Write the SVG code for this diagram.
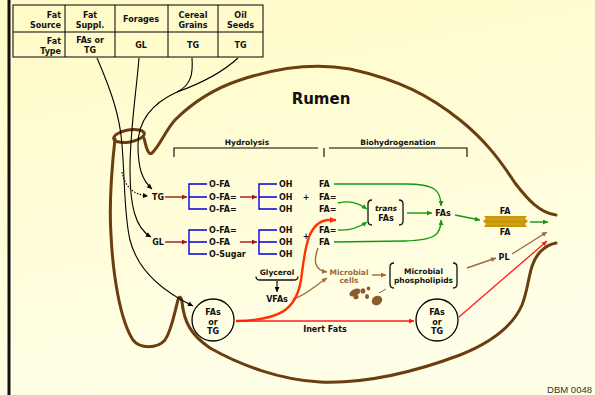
<svg xmlns="http://www.w3.org/2000/svg" width="595" height="395" viewBox="0 0 595 395">
  <defs>
    <linearGradient id="bg" x1="0" y1="0" x2="0.3" y2="1">
      <stop offset="0" stop-color="#FFFBC6"/>
      <stop offset="1" stop-color="#FFFFE8"/>
    </linearGradient>
    <marker id="aBlack" viewBox="0 0 10 10" refX="10" refY="5" markerWidth="6" markerHeight="5" markerUnits="userSpaceOnUse" orient="auto">
      <path d="M0,0 L10,5 L0,10 z" fill="#000"/>
    </marker>
    <marker id="aDarkRed" viewBox="0 0 10 10" refX="10" refY="5" markerWidth="6" markerHeight="5" markerUnits="userSpaceOnUse" orient="auto">
      <path d="M0,0 L10,5 L0,10 z" fill="#A01818"/>
    </marker>
    <marker id="aGreen" viewBox="0 0 10 10" refX="10" refY="5" markerWidth="6" markerHeight="5" markerUnits="userSpaceOnUse" orient="auto">
      <path d="M0,0 L10,5 L0,10 z" fill="#119A11"/>
    </marker>
    <marker id="aBrown" viewBox="0 0 10 10" refX="10" refY="5" markerWidth="6" markerHeight="5" markerUnits="userSpaceOnUse" orient="auto">
      <path d="M0,0 L10,5 L0,10 z" fill="#9C6A3C"/>
    </marker>
    <marker id="aRed" viewBox="0 0 10 10" refX="10" refY="5" markerWidth="6" markerHeight="5" markerUnits="userSpaceOnUse" orient="auto">
      <path d="M0,0 L10,5 L0,10 z" fill="#FF1A1A"/>
    </marker>
    <marker id="aOrange" viewBox="0 0 10 10" refX="10" refY="5" markerWidth="7" markerHeight="6" markerUnits="userSpaceOnUse" orient="auto">
      <path d="M0,0 L10,5 L0,10 z" fill="#FF3300"/>
    </marker>
  </defs>
  <style>
    text { font-family: "DejaVu Sans", "Liberation Sans", sans-serif; font-weight: bold; font-size: 8px; fill: #111; }
    .c { text-anchor: middle; }
    .e { text-anchor: end; }
    .sm { font-size: 7.5px; }
    .brn { fill: #9C6A3C; }
    .cell { fill: none; stroke: #000; stroke-width: 1; }
    .wall { fill: none; stroke: #6B3D10; stroke-width: 3; stroke-linecap: round; stroke-linejoin: round; }
    .blk { fill: none; stroke: #000; stroke-width: 1.1; }
    .dred { fill: none; stroke: #A01818; stroke-width: 1.4; }
    .blue { fill: none; stroke: #0000E0; stroke-width: 1.4; }
    .grn { fill: none; stroke: #119A11; stroke-width: 1.4; }
    .bro { fill: none; stroke: #9C6A3C; stroke-width: 1.4; }
    .red { fill: none; stroke: #FF1A1A; stroke-width: 1.3; }
    .org { fill: none; stroke: #FF3300; stroke-width: 2.4; }
    .par { fill: none; stroke: #111; stroke-width: 1.3; }
  </style>

  <!-- background and left rule -->
  <rect x="0" y="0" width="595" height="395" fill="url(#bg)"/>
  <line x1="9" y1="0" x2="9" y2="395" stroke="#111" stroke-width="3"/>

  <!-- fat source table -->
  <g id="table">
    <rect x="13" y="5" width="250" height="52" class="cell" fill="#FFFDC8"/>
    <line x1="13" y1="32" x2="263" y2="32" class="cell"/>
    <line x1="65" y1="5" x2="65" y2="57" class="cell"/>
    <line x1="115" y1="5" x2="115" y2="57" class="cell"/>
    <line x1="168" y1="5" x2="168" y2="57" class="cell"/>
    <line x1="218" y1="5" x2="218" y2="57" class="cell"/>
    <text x="61" y="17.5" class="e">Fat</text>
    <text x="61" y="27.5" class="e">Source</text>
    <text x="90" y="17.5" class="c">Fat</text>
    <text x="90" y="27.5" class="c">Suppl.</text>
    <text x="141" y="21.5" class="c">Forages</text>
    <text x="193" y="17.5" class="c">Cereal</text>
    <text x="193" y="27.5" class="c">Grains</text>
    <text x="240.5" y="17.5" class="c">Oil</text>
    <text x="240.5" y="27.5" class="c">Seeds</text>
    <text x="61" y="44" class="e">Fat</text>
    <text x="61" y="54" class="e">Type</text>
    <text x="90" y="43" class="c">FAs or</text>
    <text x="90" y="53" class="c">TG</text>
    <text x="141" y="48" class="c">GL</text>
    <text x="193" y="48" class="c">TG</text>
    <text x="240.5" y="48" class="c">TG</text>
  </g>

  <!-- rumen wall -->
  <g id="rumen">
    <path class="wall" d="M556,215 C540,213 528,200 515,183 C500,160 485,140 460,120 C430,96 400,80 350,69 C310,62 270,70 240,80 C210,90 190,105 175,120 C165,131 160,146 152,153 C148,156 146,146 144,138"/>
    <ellipse class="wall" cx="129" cy="136" rx="15.5" ry="6" transform="rotate(-10 129 136)"/>
    <path class="wall" d="M115,139 C111,175 109,205 111,235 C113,275 120,320 133,340 C140,349 157,349 165,340 C172,330 175,310 178,300 C179,296 181,296 182,302 C184,322 191,335 210,348 C240,365 280,380 320,382 C370,384 420,370 460,355 C490,343 512,328 522,305 C530,285 528,265 540,252 C545,247 550,244 556,243"/>
    <text x="321" y="104" class="c" style="font-size:15px">Rumen</text>
  </g>

  <!-- process stages -->
  <g id="stages">
    <path class="blk" d="M174,157 L174,148 L318,148"/>
    <line x1="324" y1="148" x2="324" y2="157" class="blk"/>
    <path class="blk" d="M329,148 L467,148 L467,157"/>
    <text x="247" y="145" class="c sm">Hydrolysis</text>
    <text x="398" y="145" class="c sm">Biohydrogenation</text>
  </g>

  <!-- feed inputs into the rumen -->
  <g id="inputs">
    <path class="blk" d="M97,58 C110,88 120,115 122,145 C125,180 124,215 130,240 C137,268 160,290 193,306" marker-end="url(#aBlack)"/>
    <path class="blk" d="M122,172 C125,188 135,195 148,196" stroke-dasharray="1.5 1.5" marker-end="url(#aBlack)"/>
    <path class="blk" d="M139,58 C136,95 130,130 130,170 C130,205 135,228 151,237" marker-end="url(#aBlack)"/>
    <path class="blk" d="M192,58 C193,72 192,85 177,92 C155,102 138,118 138,145 C138,168 142,180 152,189" marker-end="url(#aBlack)"/>
    <path class="blk" d="M238,58 C225,70 205,82 177,92"/>
  </g>

  <!-- triglyceride hydrolysis -->
  <g id="tg">
    <text x="158" y="200" class="c">TG</text>
    <path class="blue" d="M207,184 L189,184 L189,209 L207,209 M189,197 L207,197"/>
    <text x="209" y="187">O-FA</text>
    <text x="209" y="200">O-FA=</text>
    <text x="209" y="212">O-FA=</text>
    <path class="blue" d="M277,184 L259,184 L259,209 L277,209 M259,197 L277,197"/>
    <text x="279" y="187">OH</text>
    <text x="279" y="200">OH</text>
    <text x="279" y="212">OH</text>
    <text x="306" y="200" class="c">+</text>
    <text x="319" y="187">FA</text>
    <text x="319" y="200">FA=</text>
    <text x="319" y="212">FA=</text>
  </g>

  <!-- galactolipid hydrolysis -->
  <g id="gl">
    <text x="158" y="245" class="c">GL</text>
    <path class="blue" d="M207,230 L189,230 L189,254 L207,254 M189,242 L207,242"/>
    <text x="209" y="233">O-FA=</text>
    <text x="209" y="245">O-FA</text>
    <text x="209" y="257">O-Sugar</text>
    <path class="blue" d="M277,230 L259,230 L259,254 L277,254 M259,242 L277,242"/>
    <text x="279" y="233">OH</text>
    <text x="279" y="245">OH</text>
    <text x="279" y="257">OH</text>
    <text x="306" y="239" class="c">+</text>
    <text x="319" y="233">FA=</text>
    <text x="319" y="245">FA</text>
  </g>

  <g id="glycerol">
    <text x="277" y="275" class="c sm">Glycerol</text>
    <path class="par" d="M256,276.5 Q256,280 260,280 L294,280 Q298,280 298,276.5" stroke-width="1"/>
    <text x="277" y="302" class="c">VFAs</text>
  </g>

  <g id="trans">
    <path class="par" d="M372,200 Q368,200 368,204 L368,221 Q368,225 372,225"/>
    <path class="par" d="M399,200 Q403,200 403,204 L403,221 Q403,225 399,225"/>
    <text x="386" y="211" class="c sm" style="font-style:italic">trans</text>
    <text x="386" y="221" class="c">FAs</text>
  </g>

  <g id="fas">
    <text x="443" y="216" class="c">FAs</text>
  </g>

  <g id="band">
    <path d="M484,216 L527,216 L525,218.5 L528,221 L525,224 L527,227 L484,227 L486,224 L483,221 L486,218.5 Z" fill="#C8960A"/>
    <path d="M487,219 L524,219 M486,224 L523,224" stroke="#D9AC3A" stroke-width="0.8"/>
    <text x="505" y="214" class="c">FA</text>
    <text x="505" y="234.5" class="c">FA</text>
  </g>

  <g id="microbes">
    <text x="349" y="274.5" class="c sm brn">Microbial</text>
    <text x="349" y="283" class="c sm brn">cells</text>
    <g fill="#8C5A2C">
      <ellipse cx="355" cy="292.5" rx="6" ry="3.3" transform="rotate(-25 355 292.5)"/>
      <ellipse cx="356" cy="297" rx="2.6" ry="2.3"/>
      <ellipse cx="363" cy="291" rx="2.3" ry="2.8"/>
      <ellipse cx="368.5" cy="288.5" rx="1.8" ry="2"/>
      <ellipse cx="367" cy="296.5" rx="2" ry="2.6"/>
      <ellipse cx="377" cy="300.5" rx="5.5" ry="4.5" transform="rotate(-30 377 300.5)"/>
    </g>
    <path d="M379,293 L386,289" stroke="#9C6A3C" stroke-width="1"/>
  </g>

  <g id="phospholipids">
    <path class="par" d="M394,263 Q390,263 390,267 L390,284 Q390,288 394,288"/>
    <path class="par" d="M453,263 Q457,263 457,267 L457,284 Q457,288 453,288"/>
    <text x="423.5" y="274" class="c sm">Microbial</text>
    <text x="423.5" y="283" class="c sm">phospholipids</text>
  </g>

  <g id="pl">
    <text x="504" y="260" class="c">PL</text>
  </g>

  <g id="fats-in">
    <circle cx="213" cy="320" r="21" fill="none" stroke="#000" stroke-width="1.3"/>
    <text x="213" y="314.5" class="c">FAs</text>
    <text x="213" y="324.5" class="c">or</text>
    <text x="213" y="334" class="c">TG</text>
  </g>

  <g id="fats-out">
    <circle cx="437" cy="320" r="21" fill="none" stroke="#000" stroke-width="1.3"/>
    <text x="437" y="314.5" class="c">FAs</text>
    <text x="437" y="324.5" class="c">or</text>
    <text x="437" y="334" class="c">TG</text>
  </g>

  <!-- connectors -->
  <g id="connectors">
    <line x1="165" y1="197" x2="187" y2="197" class="dred" marker-end="url(#aDarkRed)"/>
    <line x1="240" y1="197" x2="257" y2="197" class="dred" marker-end="url(#aDarkRed)"/>
    <line x1="165" y1="242" x2="187" y2="242" class="dred" marker-end="url(#aDarkRed)"/>
    <line x1="240" y1="242" x2="257" y2="242" class="dred" stroke="#B54040" marker-end="url(#aDarkRed)"/>

    <path class="grn" d="M334,184 L405,184 C435,184 441,190 441,206" marker-end="url(#aGreen)"/>
    <path class="grn" d="M338,203 C350,200 358,203 367,209" marker-end="url(#aGreen)"/>
    <path class="grn" d="M338,230 C350,231 358,228 367,222" marker-end="url(#aGreen)"/>
    <path class="grn" d="M334,242 L405,241 C435,240 441,235 441,220" marker-end="url(#aGreen)"/>
    <line x1="407" y1="213" x2="432" y2="213" class="grn" marker-end="url(#aGreen)"/>
    <line x1="455" y1="215" x2="480" y2="220" class="grn" marker-end="url(#aGreen)"/>
    <line x1="530" y1="222" x2="548" y2="222" class="grn" marker-end="url(#aGreen)"/>

    <line x1="277" y1="281" x2="277" y2="292" class="blk" marker-end="url(#aBlack)"/>

    <path class="bro" d="M318,248 C314,259 313,270 327,272" marker-end="url(#aBrown)"/>
    <path class="bro" d="M293,299 C305,296 312,288 327,278" marker-end="url(#aBrown)"/>
    <line x1="372" y1="275" x2="386" y2="275" class="bro" marker-end="url(#aBrown)"/>
    <line x1="467" y1="268" x2="496" y2="258" class="bro" marker-end="url(#aBrown)"/>
    <line x1="512" y1="254" x2="547" y2="232" class="bro" marker-end="url(#aBrown)"/>

    <path class="org" d="M236,321 C280,320 296,310 301,280 C305,250 307,222 328,220 L336,220" marker-end="url(#aOrange)"/>
    <line x1="236" y1="321" x2="414" y2="321" class="red" marker-end="url(#aRed)"/>
    <line x1="459" y1="317" x2="547" y2="241" class="red" marker-end="url(#aRed)"/>
    <text x="325" y="332" class="c">Inert Fats</text>
  </g>

  <text x="592" y="393" text-anchor="end" style="font-family:'Liberation Sans',Arial,sans-serif;font-weight:normal;font-size:9.5px;fill:#333">DBM 0048</text>
</svg>
